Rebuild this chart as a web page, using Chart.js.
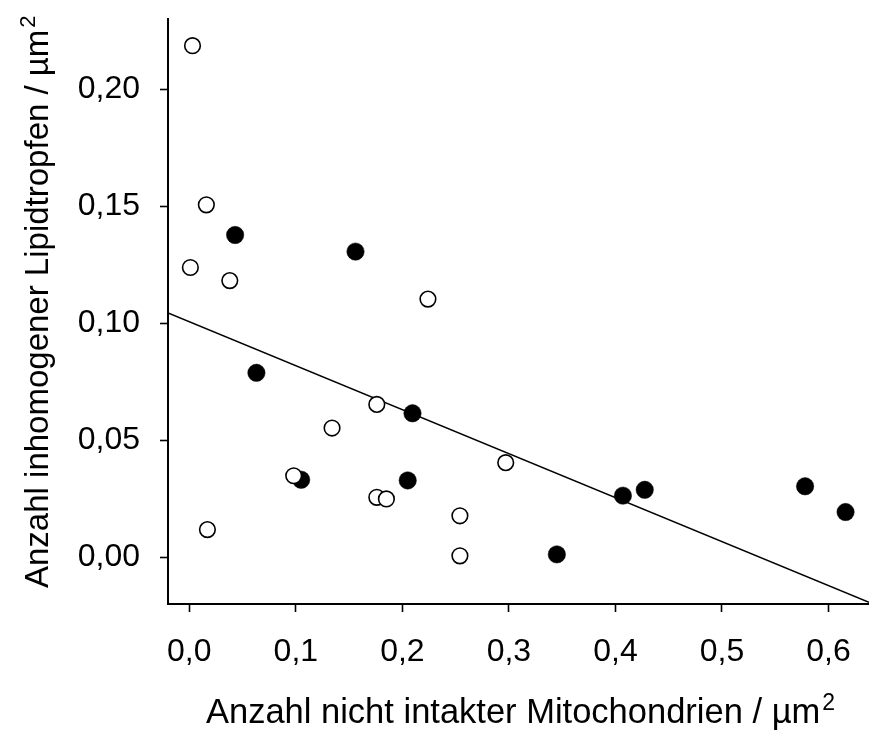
<!DOCTYPE html>
<html>
<head>
<meta charset="utf-8">
<script src="https://cdn.jsdelivr.net/npm/chart.js@4.4.1/dist/chart.umd.min.js"></script>
<style>
  html, body { margin: 0; padding: 0; background: #ffffff; }
  #wrap { width: 869px; height: 731px; }
</style>
</head>
<body>
<div id="wrap"><canvas id="c" width="869" height="731"></canvas></div>
<script>
// ---- data ----
const openX = [0.003, 0.016, 0.001, 0.038, 0.134, 0.098, 0.017, 0.176, 0.185, 0.254, 0.254, 0.224, 0.176, 0.297];
const openY = [0.2186, 0.1506, 0.1238, 0.1182, 0.0552, 0.0348, 0.0118, 0.0256, 0.0249, 0.0177, 0.0006, 0.1103, 0.0653, 0.0404];
const filledX = [0.043, 0.156, 0.063, 0.105, 0.2095, 0.205, 0.345, 0.407, 0.4275, 0.578, 0.616];
const filledY = [0.1377, 0.1306, 0.0788, 0.0331, 0.0615, 0.0328, 0.0012, 0.0263, 0.0288, 0.0303, 0.0193];
const fitX = [-0.02, 0.638];
const fitY = [0.1044, -0.0193];
const xTicks = [0.0, 0.1, 0.2, 0.3, 0.4, 0.5, 0.6];
const yTicks = [0.00, 0.05, 0.10, 0.15, 0.20];
const xTitle = "Anzahl nicht intakter Mitochondrien / µm";
const yTitle = "Anzahl inhomogener Lipidtropfen / µm";
const titleSup = "2";

const toPts = (xs, ys) => xs.map((x, i) => ({ x: x, y: ys[i] }));
const FONT = "'Liberation Sans', Arial, sans-serif";

const titlePlugin = {
  id: 'axisTitles',
  afterDraw(chart) {
    const ctx = chart.ctx;
    const area = chart.chartArea;
    ctx.save();
    ctx.fillStyle = '#000';
    ctx.textBaseline = 'alphabetic';
    // x title
    ctx.font = '34.5px ' + FONT;
    const wx = ctx.measureText(xTitle).width;
    ctx.font = '23px ' + FONT;
    const wsx = ctx.measureText(titleSup).width;
    const totalX = wx + 2 + wsx;
    const cx = (area.left + area.right) / 2;
    const startX = cx - totalX / 2 + 2;
    ctx.font = '34.5px ' + FONT;
    ctx.textAlign = 'left';
    ctx.fillText(xTitle, startX, 723);
    ctx.font = '23px ' + FONT;
    ctx.fillText(titleSup, startX + wx + 2, 710);
    // y title (rotated)
    ctx.translate(48, 0);
    ctx.rotate(-Math.PI / 2);
    ctx.font = '33px ' + FONT;
    const wy = ctx.measureText(yTitle).width;
    const startY = 588;
    ctx.textAlign = 'left';
    ctx.fillText(yTitle, -startY, 0);
    ctx.font = '22px ' + FONT;
    ctx.fillText(titleSup, -startY + wy + 2, -13);
    ctx.restore();
  }
};

new Chart(document.getElementById('c'), {
  type: 'scatter',
  data: {
    datasets: [
      {
        label: 'open',
        data: toPts(openX, openY),
        pointRadius: 7.8,
        pointHoverRadius: 7.8,
        pointBackgroundColor: '#ffffff',
        pointBorderColor: '#000000',
        pointBorderWidth: 1.6,
        order: 1
      },
      {
        label: 'filled',
        data: toPts(filledX, filledY),
        pointRadius: 8.7,
        pointHoverRadius: 8.7,
        pointBackgroundColor: '#000000',
        pointBorderColor: '#000000',
        pointBorderWidth: 0.5,
        order: 2
      },
      {
        type: 'line',
        label: 'fit',
        data: toPts(fitX, fitY),
        borderColor: '#000000',
        borderWidth: 1.6,
        pointRadius: 0,
        fill: false,
        tension: 0,
        order: 3
      }
    ]
  },
  options: {
    responsive: false,
    animation: false,
    events: [],
    layout: { autoPadding: false, padding: { top: 19, right: 0, left: 0, bottom: 0 } },
    plugins: {
      legend: { display: false },
      tooltip: { enabled: false },
      title: { display: false }
    },
    scales: {
      x: {
        type: 'linear',
        min: -0.02,
        max: 0.638,
        afterFit(scale) { scale.height = 127; scale.paddingLeft = 0; scale.paddingRight = 0; },
        afterBuildTicks(scale) { scale.ticks = xTicks.map(v => ({ value: v })); },
        border: { display: true, color: '#000', width: 2 },
        grid: { display: true, drawOnChartArea: false, drawTicks: true, tickLength: 8, tickWidth: 1.6, tickColor: '#000' },
        ticks: {
          color: '#000',
          font: { family: FONT, size: 32 },
          padding: 21,
          maxRotation: 0,
          autoSkip: false,
          callback: (v) => Number(v).toFixed(1).replace('.', ',')
        },
        title: { display: false }
      },
      y: {
        type: 'linear',
        min: -0.02,
        max: 0.23,
        afterFit(scale) { scale.width = 168; scale.paddingTop = 0; scale.paddingBottom = 0; },
        afterBuildTicks(scale) { scale.ticks = yTicks.map(v => ({ value: v })); },
        border: { display: true, color: '#000', width: 2 },
        grid: { display: true, drawOnChartArea: false, drawTicks: true, tickLength: 8, tickWidth: 1.6, tickColor: '#000' },
        ticks: {
          color: '#000',
          font: { family: FONT, size: 32 },
          padding: 20,
          autoSkip: false,
          callback: (v) => Number(v).toFixed(2).replace('.', ',')
        },
        title: { display: false }
      }
    }
  },
  plugins: [titlePlugin]
});
</script>
</body>
</html>
